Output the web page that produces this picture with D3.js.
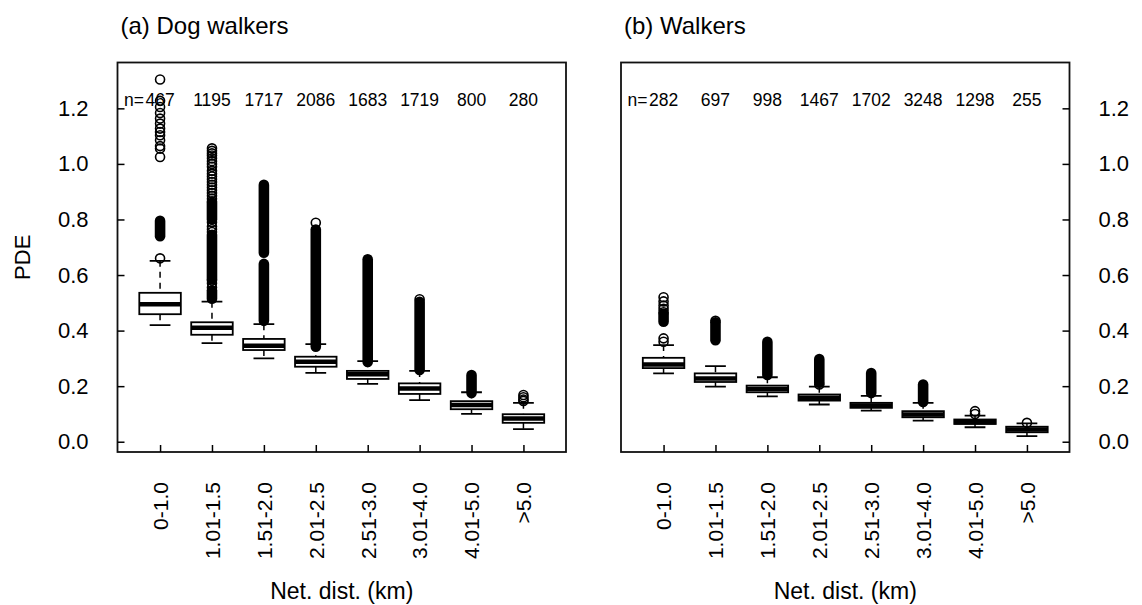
<!DOCTYPE html>
<html>
<head>
<meta charset="utf-8">
<script src="https://cdn.jsdelivr.net/npm/d3@7"></script>
<style>
body{margin:0;background:#fff;}
text{font-family:"Liberation Sans",Arial,Helvetica,sans-serif;fill:#000;}
</style>
</head>
<body>
<script>
/* two boxplot panels, shared y range, ticks inward like R tcl>0 */

// data
var categories=["0-1.0","1.01-1.5","1.51-2.0","2.01-2.5","2.51-3.0","3.01-4.0","4.01-5.0",">5.0"];
var yTicks=[0,0.2,0.4,0.6,0.8,1.0,1.2];

var dogN=[467,1195,1717,2086,1683,1719,800,280];
var dogLow=[0.42,0.355,0.30,0.248,0.208,0.15,0.10,0.045];
var dogQ1=[0.459,0.385,0.33,0.27,0.226,0.172,0.117,0.068];
var dogMed=[0.495,0.41,0.345,0.288,0.243,0.192,0.132,0.084];
var dogQ3=[0.536,0.43,0.37,0.306,0.255,0.21,0.146,0.099];
var dogHigh=[0.651,0.504,0.423,0.351,0.29,0.255,0.178,0.14];
// single outliers
var dogOut=[
	[1.304,1.227,1.205,1.183,1.163,1.145,1.127,1.115,1.103,1.085,1.064,1.055,1.025,0.66],
	[1.056,1.047,1.038,1.03,1.02,1.01,1.0,0.99,0.975,0.965,0.955,0.945,0.935,0.925,0.915,0.905,0.895,0.885,0.875,0.865,0.79,0.775,0.765,0.755,0.58,0.57,0.555],
	[],
	[0.788],
	[],
	[0.513],
	[],
	[0.168,0.16,0.152,0.147]
];
// runs of outliers so dense they print as a solid column [lo,hi]
var dogRuns=[
	[[0.74,0.795]],
	[[0.515,0.545],[0.585,0.745],[0.80,0.86]],
	[[0.435,0.64],[0.68,0.925]],
	[[0.342,0.764]],
	[[0.287,0.657]],
	[[0.258,0.504]],
	[[0.175,0.24]],
	[]
];

var walkN=[282,697,998,1467,1702,3248,1298,255];
var walkLow=[0.246,0.198,0.163,0.134,0.112,0.076,0.052,0.02];
var walkQ1=[0.265,0.215,0.178,0.148,0.122,0.088,0.064,0.034];
var walkMed=[0.278,0.228,0.19,0.158,0.13,0.098,0.07,0.044];
var walkQ3=[0.302,0.246,0.202,0.17,0.14,0.11,0.08,0.054];
var walkHigh=[0.348,0.272,0.232,0.198,0.165,0.14,0.094,0.066];
var walkOut=[
	[0.52,0.505,0.49,0.478,0.466,0.372,0.36],
	[0.435],
	[],
	[0.206],
	[],
	[],
	[0.11,0.1],
	[0.068]
];
var walkRuns=[
	[[0.432,0.46]],
	[[0.365,0.43]],
	[[0.24,0.36]],
	[[0.212,0.298]],
	[[0.175,0.247]],
	[[0.143,0.206]],
	[],
	[]
];

var svgwidth=1142,svgheight=605;
var panelW=448.5,plotTop=62.5,plotBottom=452;
var boxW=0.8,r=4.5;

var svg=d3.select("body").append("svg")
	.attr("width",svgwidth)
	.attr("height",svgheight);

var y=d3.scaleLinear().domain([-0.037,1.365]).range([plotBottom,plotTop]);
var x=d3.scaleLinear().domain([0.18,8.82]).range([0,panelW]);

function drawPanel(left,title,n,low,q1,med,q3,high,outs,runs,side)
{
	var g=svg.append("g").attr("transform","translate("+left+",0)");
	var bw=x(1+boxW/2)-x(1);

	g.append("rect")
		.attr("x",0).attr("y",plotTop)
		.attr("width",panelW).attr("height",plotBottom-plotTop)
		.attr("fill","none").attr("stroke","#111").attr("stroke-width",1.8);

	var idx=d3.range(categories.length);

	// whiskers
	g.selectAll(".wh").data(idx).enter().append("path")
		.attr("d",function(i){
			return "M"+x(i+1)+","+y(high[i])+"V"+y(q3[i])+"M"+x(i+1)+","+y(q1[i])+"V"+y(low[i]);
		})
		.attr("stroke","#000").attr("stroke-width",1.5).attr("stroke-dasharray","6,5");
	g.selectAll(".cap").data(idx).enter().append("path")
		.attr("d",function(i){
			return "M"+(x(i+1)-bw/2)+","+y(high[i])+"H"+(x(i+1)+bw/2)+
				"M"+(x(i+1)-bw/2)+","+y(low[i])+"H"+(x(i+1)+bw/2);
		})
		.attr("stroke","#000").attr("stroke-width",1.8);

	// boxes
	g.selectAll(".box").data(idx).enter().append("rect")
		.attr("x",function(i){return x(i+1)-bw;})
		.attr("width",2*bw)
		.attr("y",function(i){return y(q3[i]);})
		.attr("height",function(i){return y(q1[i])-y(q3[i]);})
		.attr("fill","#fff").attr("stroke","#000").attr("stroke-width",1.8);
	g.selectAll(".med").data(idx).enter().append("line")
		.attr("x1",function(i){return x(i+1)-bw;})
		.attr("x2",function(i){return x(i+1)+bw;})
		.attr("y1",function(i){return y(med[i]);})
		.attr("y2",function(i){return y(med[i]);})
		.attr("stroke","#000").attr("stroke-width",4.5);

	// dense outlier columns
	idx.forEach(function(i){
		runs[i].forEach(function(rn){
			g.append("line")
				.attr("x1",x(i+1)).attr("x2",x(i+1))
				.attr("y1",y(rn[0])).attr("y2",y(rn[1]))
				.attr("stroke","#000").attr("stroke-width",2*r+1.6)
				.attr("stroke-linecap","round");
		});
		g.selectAll(null).data(outs[i]).enter().append("circle")
			.attr("cx",x(i+1)).attr("cy",function(v){return y(v);})
			.attr("r",r)
			.attr("fill","none").attr("stroke","#000").attr("stroke-width",1.6);
	});

	// n labels
	g.append("text").attr("x",x(1)-16).attr("y",106)
		.attr("text-anchor","end").style("font-size","17.5px").text("n=");
	g.selectAll(".n").data(idx).enter().append("text")
		.attr("x",function(i){return x(i+1);}).attr("y",106)
		.attr("text-anchor","middle").style("font-size","17.5px")
		.text(function(i){return n[i];});

	// y axis (inward ticks)
	var ya=(side=="left"?d3.axisLeft(y):d3.axisRight(y))
		.tickValues(yTicks).tickSize(-7).tickPadding(29)
		.tickFormat(d3.format(".1f"));
	var yg=g.append("g").attr("transform","translate("+(side=="left"?0:panelW)+",0)").call(ya);
	yg.select(".domain").remove();
	yg.selectAll("line").attr("stroke","#000").attr("stroke-width",1.5);
	yg.selectAll("text").style("font-size","22px").attr("font-family",null);

	// x axis
	var xa=d3.axisBottom(x).tickValues(d3.range(1,9)).tickSize(-7)
		.tickFormat(function(d){return categories[d-1];});
	var xg=g.append("g").attr("transform","translate(0,"+plotBottom+")").call(xa);
	xg.select(".domain").remove();
	xg.selectAll("line").attr("stroke","#000").attr("stroke-width",1.5);
	xg.selectAll("text")
		.attr("transform","rotate(-90)")
		.attr("x",-30).attr("y",0).attr("dy","0.35em")
		.attr("text-anchor","end")
		.style("font-size","21px").attr("font-family",null);

	g.append("text").attr("x",3).attr("y",34).style("font-size","24px").text(title);
	g.append("text").attr("x",panelW/2).attr("y",599)
		.attr("text-anchor","middle").style("font-size","23px").text("Net. dist. (km)");
}

drawPanel(117.5,"(a) Dog walkers",dogN,dogLow,dogQ1,dogMed,dogQ3,dogHigh,dogOut,dogRuns,"left");
drawPanel(621,"(b) Walkers",walkN,walkLow,walkQ1,walkMed,walkQ3,walkHigh,walkOut,walkRuns,"right");

svg.append("text")
	.attr("transform","translate(22,"+((plotTop+plotBottom)/2)+") rotate(-90)")
	.attr("text-anchor","middle").attr("dominant-baseline","central")
	.style("font-size","22px").text("PDE");
</script>
</body>
</html>
